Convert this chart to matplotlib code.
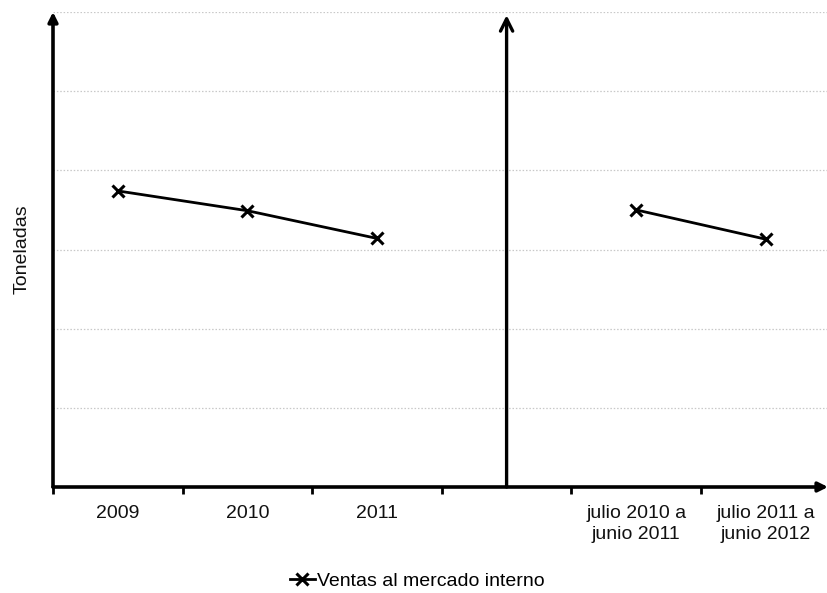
import numpy as np
import matplotlib
matplotlib.use("Agg")
import matplotlib.pyplot as plt

plt.rcParams['font.family'] = ['Liberation Sans', 'DejaVu Sans']

# data (y axis has no labels, grid step = 1 unit)
categorias = ["2009", "2010", "2011", "", "julio 2010 a\njunio 2011", "julio 2011 a\njunio 2012"]
ventas = [3.74, 3.49, 3.14, np.nan, 3.50, 3.13]
serie = "Ventas al mercado interno"

fig = plt.figure(figsize=(8.28, 5.93), dpi=100)
ax = fig.add_axes([53 / 828, (593 - 487) / 593, 775 / 828, 475 / 593])

x = np.arange(len(categorias))
ax.plot(x, ventas, color='black', lw=2.0, marker='x', markersize=8,
        markeredgewidth=2.2, label=serie, zorder=3)

ax.set_xlim(-0.5, 5.48)
ax.set_ylim(0, 6)

# gridlines
for v in range(1, 7):
    ax.axhline(v, color='#c8c8c8', lw=0.9, ls=(0, (1.2, 1.5)), zorder=1)

for s in ax.spines.values():
    s.set_visible(False)

ax.set_yticks([])
ax.set_xticks(x)
ax.set_xticklabels(categorias, fontsize=14, color='#111111', linespacing=1.3)
ax.tick_params(axis='x', which='major', length=0, pad=13)
ax.set_xticks(np.arange(-0.5, 5.0, 1.0), minor=True)
ax.tick_params(axis='x', which='minor', length=5, width=2, color='black', direction='out')

ax.set_ylabel("Toneladas", fontsize=14, color='#111111', labelpad=16)

# axis arrows
ax.annotate('', xy=(0, 1.0), xytext=(0, 0), xycoords='axes fraction',
            arrowprops=dict(arrowstyle='-|>', lw=2.6, color='black', mutation_scale=14,
                            shrinkA=0, shrinkB=0), annotation_clip=False)
ax.annotate('', xy=(1.0, 0), xytext=(0, 0), xycoords='axes fraction',
            arrowprops=dict(arrowstyle='-|>', lw=2.6, color='black', mutation_scale=14,
                            shrinkA=0, shrinkB=0), annotation_clip=False)
ax.annotate('', xy=(3, 5.96), xytext=(3, 0), xycoords='data',
            arrowprops=dict(arrowstyle='->', lw=2.4, color='black', mutation_scale=22,
                            shrinkA=0, shrinkB=0), annotation_clip=False)

fig.legend(loc='center', bbox_to_anchor=(417 / 828, (593 - 581) / 593), frameon=False,
           fontsize=14, handlelength=1.3, handletextpad=0.1, borderpad=0)

fig.savefig("out.png", dpi=100)
